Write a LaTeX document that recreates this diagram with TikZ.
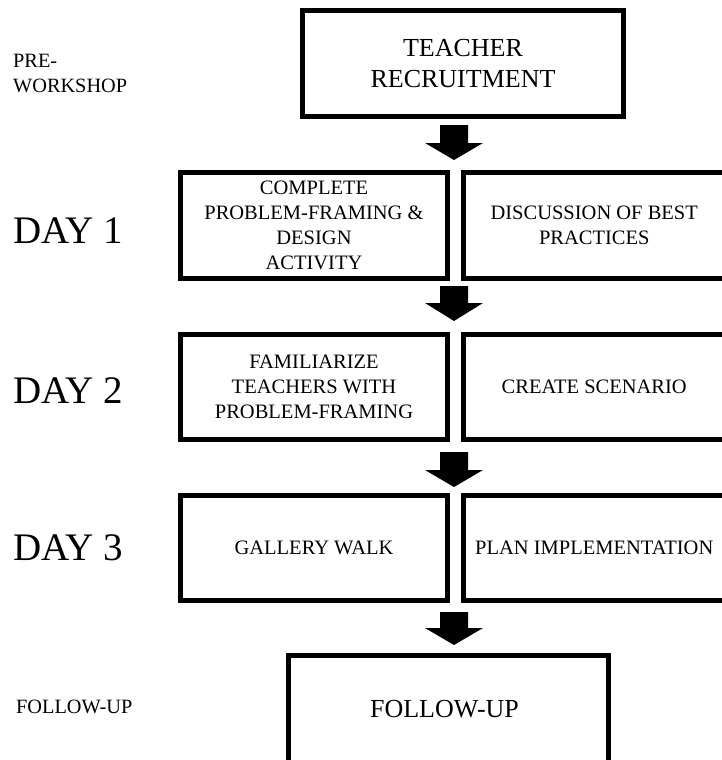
\documentclass[tikz,border=0pt]{standalone}
\usepackage{fontspec}
\setmainfont{Liberation Serif}
\tikzset{
  box/.style={draw=black, line width=5pt, rectangle, inner sep=0pt, align=center, fill=white},
  smalltext/.style={font=\fontsize{20.5}{25}\selectfont},
  bigtext/.style={font=\fontsize{26}{31}\selectfont},
  daylabel/.style={font=\fontsize{39}{44}\selectfont, anchor=base west, inner sep=0pt},
  sidelabel/.style={font=\fontsize{20.3}{25}\selectfont, anchor=west, inner sep=0pt, align=left},
  blockarrow/.style={fill=black, draw=none}
}
\newcommand\myarrow[3]{%
  \fill[blockarrow] (440,#1) -- (468,#1) -- (468,#2) -- (483,#2) -- (454,#3) -- (425,#2) -- (440,#2) -- cycle;}
\begin{document}
\begin{tikzpicture}[x=1pt, y=-1pt]
\useasboundingbox (0,0) rectangle (722,760);
\clip (0,0) rectangle (722,760);
\fill[white] (0,0) rectangle (722,760);

% side labels
\node[sidelabel] (pre) at (13,74) {PRE-\\WORKSHOP};
\node[daylabel] (d1) at (13,243) {DAY 1};
\node[daylabel] (d2) at (13,403) {DAY 2};
\node[daylabel] (d3) at (13,560) {DAY 3};
\node[sidelabel] (fu) at (16,707) {FOLLOW-UP};

% boxes
\node[box, bigtext, minimum width=321pt, minimum height=106pt] (teach) at (463,63.5) {TEACHER\\RECRUITMENT};

\node[box, smalltext, minimum width=267pt, minimum height=106pt] (c1) at (314,225.5) {COMPLETE\\PROBLEM-FRAMING \&\\DESIGN\\ACTIVITY};
\node[box, smalltext, minimum width=261.5pt, minimum height=106pt] (b1) at (594.25,225.5) {DISCUSSION OF BEST\\PRACTICES};

\node[box, smalltext, minimum width=267pt, minimum height=105pt] (f2) at (314,387) {FAMILIARIZE\\TEACHERS WITH\\PROBLEM-FRAMING};
\node[box, smalltext, minimum width=261.5pt, minimum height=105pt] (s2) at (594.25,387) {CREATE SCENARIO};

\node[box, smalltext, minimum width=267pt, minimum height=105pt] (g3) at (314,548) {GALLERY WALK};
\node[box, smalltext, minimum width=261.5pt, minimum height=105pt] (p3) at (594.25,548) {PLAN IMPLEMENTATION};

\node[box, bigtext, minimum width=320pt, minimum height=106.5pt] (follow) at (448.5,708.75) {};
\node[bigtext, inner sep=0pt] (followtxt) at (444.5,709.5) {FOLLOW-UP};

% block arrows
\myarrow{125}{143}{160}
\myarrow{286}{303}{321}
\myarrow{452}{470}{487}
\myarrow{612}{628}{645}
\end{tikzpicture}
\end{document}
